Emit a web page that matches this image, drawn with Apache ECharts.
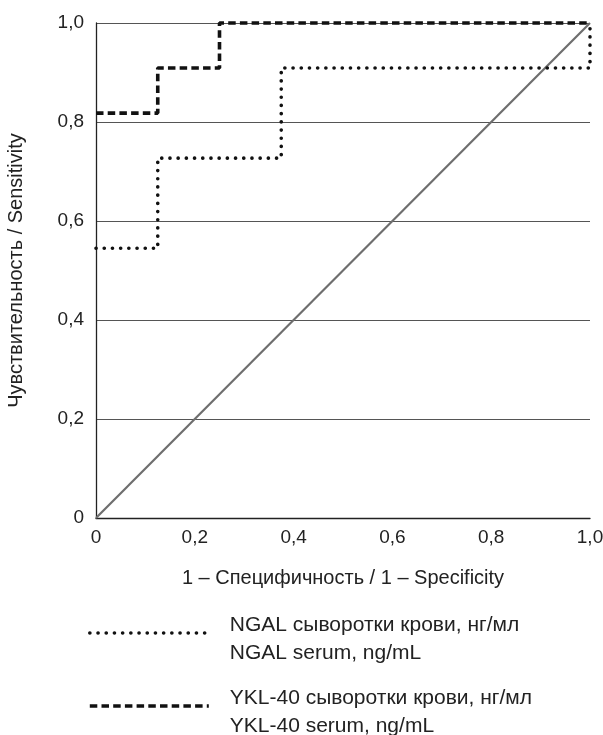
<!DOCTYPE html>
<html>
<head>
<meta charset="utf-8">
<script src="https://cdn.jsdelivr.net/npm/echarts@6/dist/echarts.min.js"></script>
<style>
    * {
        margin: 0;
        padding: 0;
    }
    body {
        background: #fff;
    }
    #main {
        width: 603px;
        height: 735px;
    }
</style>
</head>
<body>
<div id="main"></div>
<script>
    // ROC points (1 - specificity, sensitivity)
    const ngalFpr = [0, 0.125, 0.375, 1]
    const ngalTpr = [0.545, 0.727, 0.909, 1]
    const yklFpr = [0, 0.125, 0.25, 1]
    const yklTpr = [0.818, 0.909, 1, 1]
    const refFpr = [0, 1]
    const refTpr = [0, 1]
    const tickLabels = ['0', '0,2', '0,4', '0,6', '0,8', '1,0']
    const seriesNames = ['NGAL сыворотки крови, нг/мл\nNGAL serum, ng/mL', 'YKL-40 сыворотки крови, нг/мл\nYKL-40 serum, ng/mL']

    const font = "'Liberation Sans', Arial, sans-serif"
    const pairs = (xs, ys) => xs.map((x, i) => [x, ys[i]])
    const tickFmt = v => tickLabels[Math.round(v / 0.2)]

    const dotStyle = {color: '#111', width: 3.6, type: [0.1, 8.1], cap: 'round'}
    const dashStyle = {color: '#111', width: 3.6, type: [7.5, 4.2]}

    // one legend per series so they stack the way the original does
    // the small blank first line pushes the text a bit below the line sample
    const makeLegend = (name, top, lineStyle) => ({
        orient: 'vertical',
        left: 88,
        top: top,
        padding: 0,
        itemWidth: 119,
        itemHeight: 14,
        data: [name],
        itemStyle: {opacity: 0},
        lineStyle: lineStyle,
        formatter: n => '{s| }\n' + n.split('\n').map(l => '{t|' + l + '}').join('\n'),
        textStyle: {
            padding: [0, 0, 0, 16],
            rich: {
                s: {fontSize: 4, lineHeight: 12},
                t: {fontSize: 21, lineHeight: 28, color: '#222', fontFamily: font}
            }
        }
    })

    let myChart = echarts.init(document.getElementById('main'))
    let option = {
        animation: false,
        textStyle: {fontFamily: font},
        grid: {
            left: 96,
            right: 13,
            top: 23,
            bottom: 217,
            outerBoundsMode: 'none'
        },
        xAxis: {
            type: 'value',
            min: 0,
            max: 1,
            interval: 0.2,
            name: '1 – Специфичность / 1 – Specificity',
            nameLocation: 'middle',
            nameGap: 50,
            nameTextStyle: {fontSize: 20, color: '#222', fontFamily: font},
            axisLine: {lineStyle: {color: '#222', width: 1.3}},
            axisTick: {show: false},
            splitLine: {show: false},
            axisLabel: {fontSize: 19, color: '#222', margin: 10, formatter: tickFmt, fontFamily: font}
        },
        yAxis: {
            type: 'value',
            min: 0,
            max: 1,
            interval: 0.2,
            name: 'Чувствительность / Sensitivity',
            nameLocation: 'middle',
            nameGap: 70,
            nameTextStyle: {fontSize: 20, color: '#222', fontFamily: font},
            axisLine: {show: true, lineStyle: {color: '#222', width: 1.3}},
            axisTick: {show: false},
            splitLine: {lineStyle: {color: '#555', width: 1}},
            axisLabel: {fontSize: 19, color: '#222', margin: 12, formatter: tickFmt, fontFamily: font}
        },
        legend: [
            makeLegend(seriesNames[0], 603, dotStyle),
            makeLegend(seriesNames[1], 676, dashStyle)
        ],
        series: [
            {
                name: 'ref',
                type: 'line',
                data: pairs(refFpr, refTpr),
                symbol: 'none',
                lineStyle: {color: '#6e6e6e', width: 2.2},
                z: 1
            },
            {
                name: seriesNames[0],
                type: 'line',
                step: 'end',
                clip: false,
                data: pairs(ngalFpr, ngalTpr),
                symbol: 'none',
                itemStyle: {color: '#111'},
                lineStyle: dotStyle,
                z: 3
            },
            {
                name: seriesNames[1],
                type: 'line',
                step: 'end',
                clip: false,
                data: pairs(yklFpr, yklTpr),
                symbol: 'none',
                itemStyle: {color: '#111'},
                lineStyle: dashStyle,
                z: 4
            }
        ]
    }
    myChart.setOption(option)
</script>
</body>
</html>
